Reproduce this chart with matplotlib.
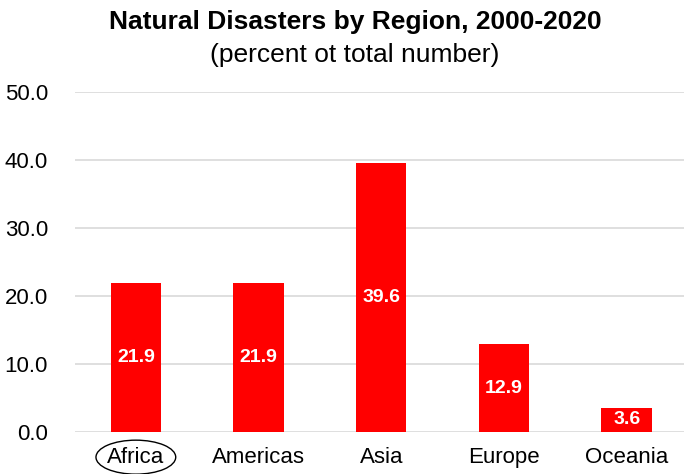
import matplotlib.pyplot as plt
from matplotlib.patches import Ellipse
import matplotlib.transforms as mtransforms

# Data
regions = ["Africa", "Americas", "Asia", "Europe", "Oceania"]
shares = [21.9, 21.9, 39.6, 12.9, 3.6]
y_ticks = [0, 10, 20, 30, 40, 50]

plt.rcParams["font.family"] = ["Liberation Sans", "DejaVu Sans"]

fig = plt.figure(figsize=(6.84, 4.74), dpi=100)
ax = fig.add_axes([74.5 / 684, 42 / 474, (688 - 74.5) / 684, 340 / 474])

x = range(len(regions))
bars = ax.bar(x, shares, width=0.41, color="#ff0000", zorder=3)

# value labels, centred in bars
for xi, v in zip(x, shares):
    ax.text(xi, v / 2, f"{v:.1f}", ha="center", va="center",
            color="white", fontsize=14, fontweight="bold", zorder=4)

ax.set_xlim(-0.5, len(regions) - 0.5)
ax.set_ylim(0, 50)
ax.set_yticks(y_ticks)
ax.set_yticklabels([f"{t:.1f}" for t in y_ticks])
ax.set_xticks(list(x))
ax.set_xticklabels(regions)
ax.tick_params(axis="both", length=0, labelsize=16, colors="black")
ax.tick_params(axis="y", pad=19)
ax.tick_params(axis="x", pad=11)

ax.grid(axis="y", color="#d9d9d9", linewidth=1.2, zorder=0)
for s in ax.spines.values():
    s.set_visible(False)

# circle around Africa label
trans = mtransforms.blended_transform_factory(ax.transData, ax.transAxes)
ax.add_patch(Ellipse((0, -0.074), 0.65, 0.1, transform=trans,
                     fill=False, edgecolor="black", linewidth=1.0, clip_on=False))

fig.text(355 / 684, 1 - 22 / 474, "Natural Disasters by Region, 2000-2020",
         ha="center", va="center", fontsize=19, fontweight="bold")
fig.text(355 / 684, 1 - 55 / 474, "(percent ot total number)",
         ha="center", va="center", fontsize=19)

fig.savefig("out.png", dpi=100)
